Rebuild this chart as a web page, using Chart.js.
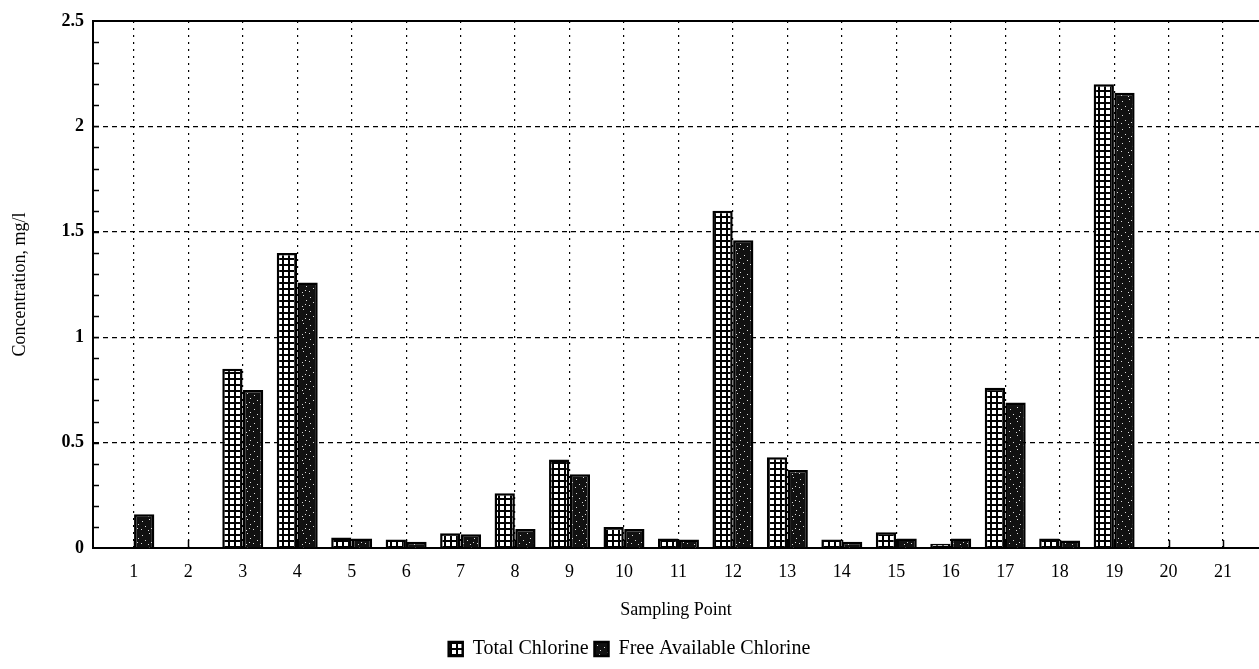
<!DOCTYPE html>
<html>
<head>
<meta charset="utf-8">
<title>Total and Free Available Chlorine by Sampling Point</title>
<script src="https://cdn.jsdelivr.net/npm/chart.js@4.4.0/dist/chart.umd.min.js"></script>
<style>
  html, body { margin: 0; padding: 0; background: #fff; }
</style>
</head>
<body>
<canvas id="chlorineChart" width="1259" height="669"></canvas>
<script>
// Sampling points along the x axis
const samplingPoints = [1, 2, 3, 4, 5, 6, 7, 8, 9, 10, 11, 12, 13, 14, 15, 16, 17, 18, 19, 20, 21];

// Concentrations in mg/l (null = no bar)
const totalChlorine = [null, null, 0.85, 1.4, 0.05, 0.04, 0.07, 0.26, 0.42, 0.1, 0.045, 1.6, 0.43, 0.04, 0.075, 0.02, 0.76, 0.045, 2.2, null, null];
const freeChlorine = [0.16, null, 0.75, 1.26, 0.045, 0.03, 0.065, 0.09, 0.35, 0.09, 0.04, 1.46, 0.37, 0.03, 0.045, 0.045, 0.69, 0.035, 2.16, null, null];

// Y axis labels
const yTicks = [0, 0.5, 1, 1.5, 2, 2.5];

const FONT = '"Liberation Serif", "Times New Roman", serif';
Chart.defaults.font.family = FONT;
Chart.defaults.color = '#000';

// Grid fill for Total Chlorine bars (white squares in black lines)
const makeGridPattern = () => {
  const c = document.createElement('canvas');
  c.width = 6;
  c.height = 6;
  const g = c.getContext('2d');
  g.fillStyle = '#fff';
  g.fillRect(0, 0, 6, 6);
  g.fillStyle = '#000';
  g.fillRect(0, 0, 6, 2);
  g.fillRect(0, 0, 2, 6);
  return g.createPattern(c, 'repeat');
};

// Stippled dark fill for Free Available Chlorine bars
const makeStipplePattern = () => {
  const c = document.createElement('canvas');
  c.width = 14;
  c.height = 14;
  const g = c.getContext('2d');
  g.fillStyle = '#111';
  g.fillRect(0, 0, 14, 14);
  g.fillStyle = '#ddd';
  [[2, 3], [9, 1], [5, 8], [12, 6], [1, 11], [8, 12], [11, 10]].forEach(([px, py]) => g.fillRect(px, py, 1, 1));
  return g.createPattern(c, 'repeat');
};

const toPoints = (values) => samplingPoints.map((p, i) => ({ x: p, y: values[i] }));

// Solid top frame, small inner minor ticks on y and short ticks on x
const framePlugin = {
  id: 'framePlugin',
  afterDraw(chart) {
    const { ctx, chartArea, scales } = chart;
    const x = scales.x;
    const y = scales.y;
    ctx.save();
    ctx.strokeStyle = '#000';
    ctx.lineWidth = 2;
    ctx.beginPath();
    ctx.moveTo(chartArea.left, chartArea.top);
    ctx.lineTo(chartArea.right, chartArea.top);
    ctx.stroke();

    ctx.lineWidth = 1.5;
    ctx.beginPath();
    for (let v = 0.1; v < y.max; v += 0.1) {
      const py = Math.round(y.getPixelForValue(v)) + 0.5;
      ctx.moveTo(chartArea.left, py);
      ctx.lineTo(chartArea.left + 6, py);
    }
    samplingPoints.forEach((p) => {
      const px = Math.round(x.getPixelForValue(p)) + 0.5;
      ctx.moveTo(px, chartArea.bottom);
      ctx.lineTo(px, chartArea.bottom - 8);
    });
    ctx.stroke();
    ctx.restore();
  },
};

const ctx = document.getElementById('chlorineChart').getContext('2d');
new Chart(ctx, {
  type: 'bar',
  data: {
    datasets: [
      {
        label: 'Total Chlorine',
        data: toPoints(totalChlorine),
        backgroundColor: makeGridPattern(),
        borderColor: '#000',
        borderWidth: 2.5,
        borderSkipped: 'bottom',
        categoryPercentage: 0.76,
        barPercentage: 0.98,
      },
      {
        label: 'Free Available Chlorine',
        data: toPoints(freeChlorine),
        backgroundColor: makeStipplePattern(),
        borderColor: '#000',
        borderWidth: 2.5,
        borderSkipped: 'bottom',
        categoryPercentage: 0.76,
        barPercentage: 0.98,
      },
    ],
  },
  options: {
    responsive: false,
    animation: false,
    devicePixelRatio: 1,
    layout: { padding: { top: 21, right: 0, bottom: 0, left: 0 } },
    plugins: {
      tooltip: { enabled: false },
      legend: {
        display: true,
        position: 'bottom',
        labels: {
          font: { family: FONT, size: 20 },
          color: '#000',
          boxWidth: 14,
          boxHeight: 14,
          padding: 6,
        },
      },
    },
    scales: {
      x: {
        type: 'linear',
        offset: false,
        min: 0.25,
        max: 21.66,
        afterBuildTicks: (scale) => {
          scale.ticks = samplingPoints.map((v) => ({ value: v }));
        },
        afterFit: (scale) => {
          scale.height = 85;
        },
        ticks: {
          autoSkip: false,
          maxRotation: 0,
          padding: 13,
          font: { family: FONT, size: 18 },
          color: '#000',
          callback: (v) => String(v),
        },
        grid: { color: '#000', lineWidth: 1.2, drawTicks: false, offset: false },
        border: { display: true, color: '#000', width: 2, dash: [2, 5] },
        title: {
          display: true,
          text: 'Sampling Point',
          font: { family: FONT, size: 18 },
          color: '#000',
          padding: { top: 4, bottom: 12 },
        },
      },
      y: {
        min: 0,
        max: 2.5,
        afterBuildTicks: (scale) => {
          scale.ticks = yTicks.map((v) => ({ value: v }));
        },
        afterFit: (scale) => {
          scale.width = 93;
        },
        ticks: {
          padding: 9,
          font: { family: FONT, size: 18, weight: 'bold' },
          color: '#000',
          callback: (v) => String(v),
        },
        grid: { color: '#000', lineWidth: 1.2, drawTicks: false },
        border: { display: true, color: '#000', width: 2, dash: [5, 4] },
        title: {
          display: true,
          text: 'Concentration, mg/l',
          font: { family: FONT, size: 18 },
          color: '#000',
          padding: { top: 9, bottom: 0 },
        },
      },
    },
  },
  plugins: [framePlugin],
});
</script>
</body>
</html>
